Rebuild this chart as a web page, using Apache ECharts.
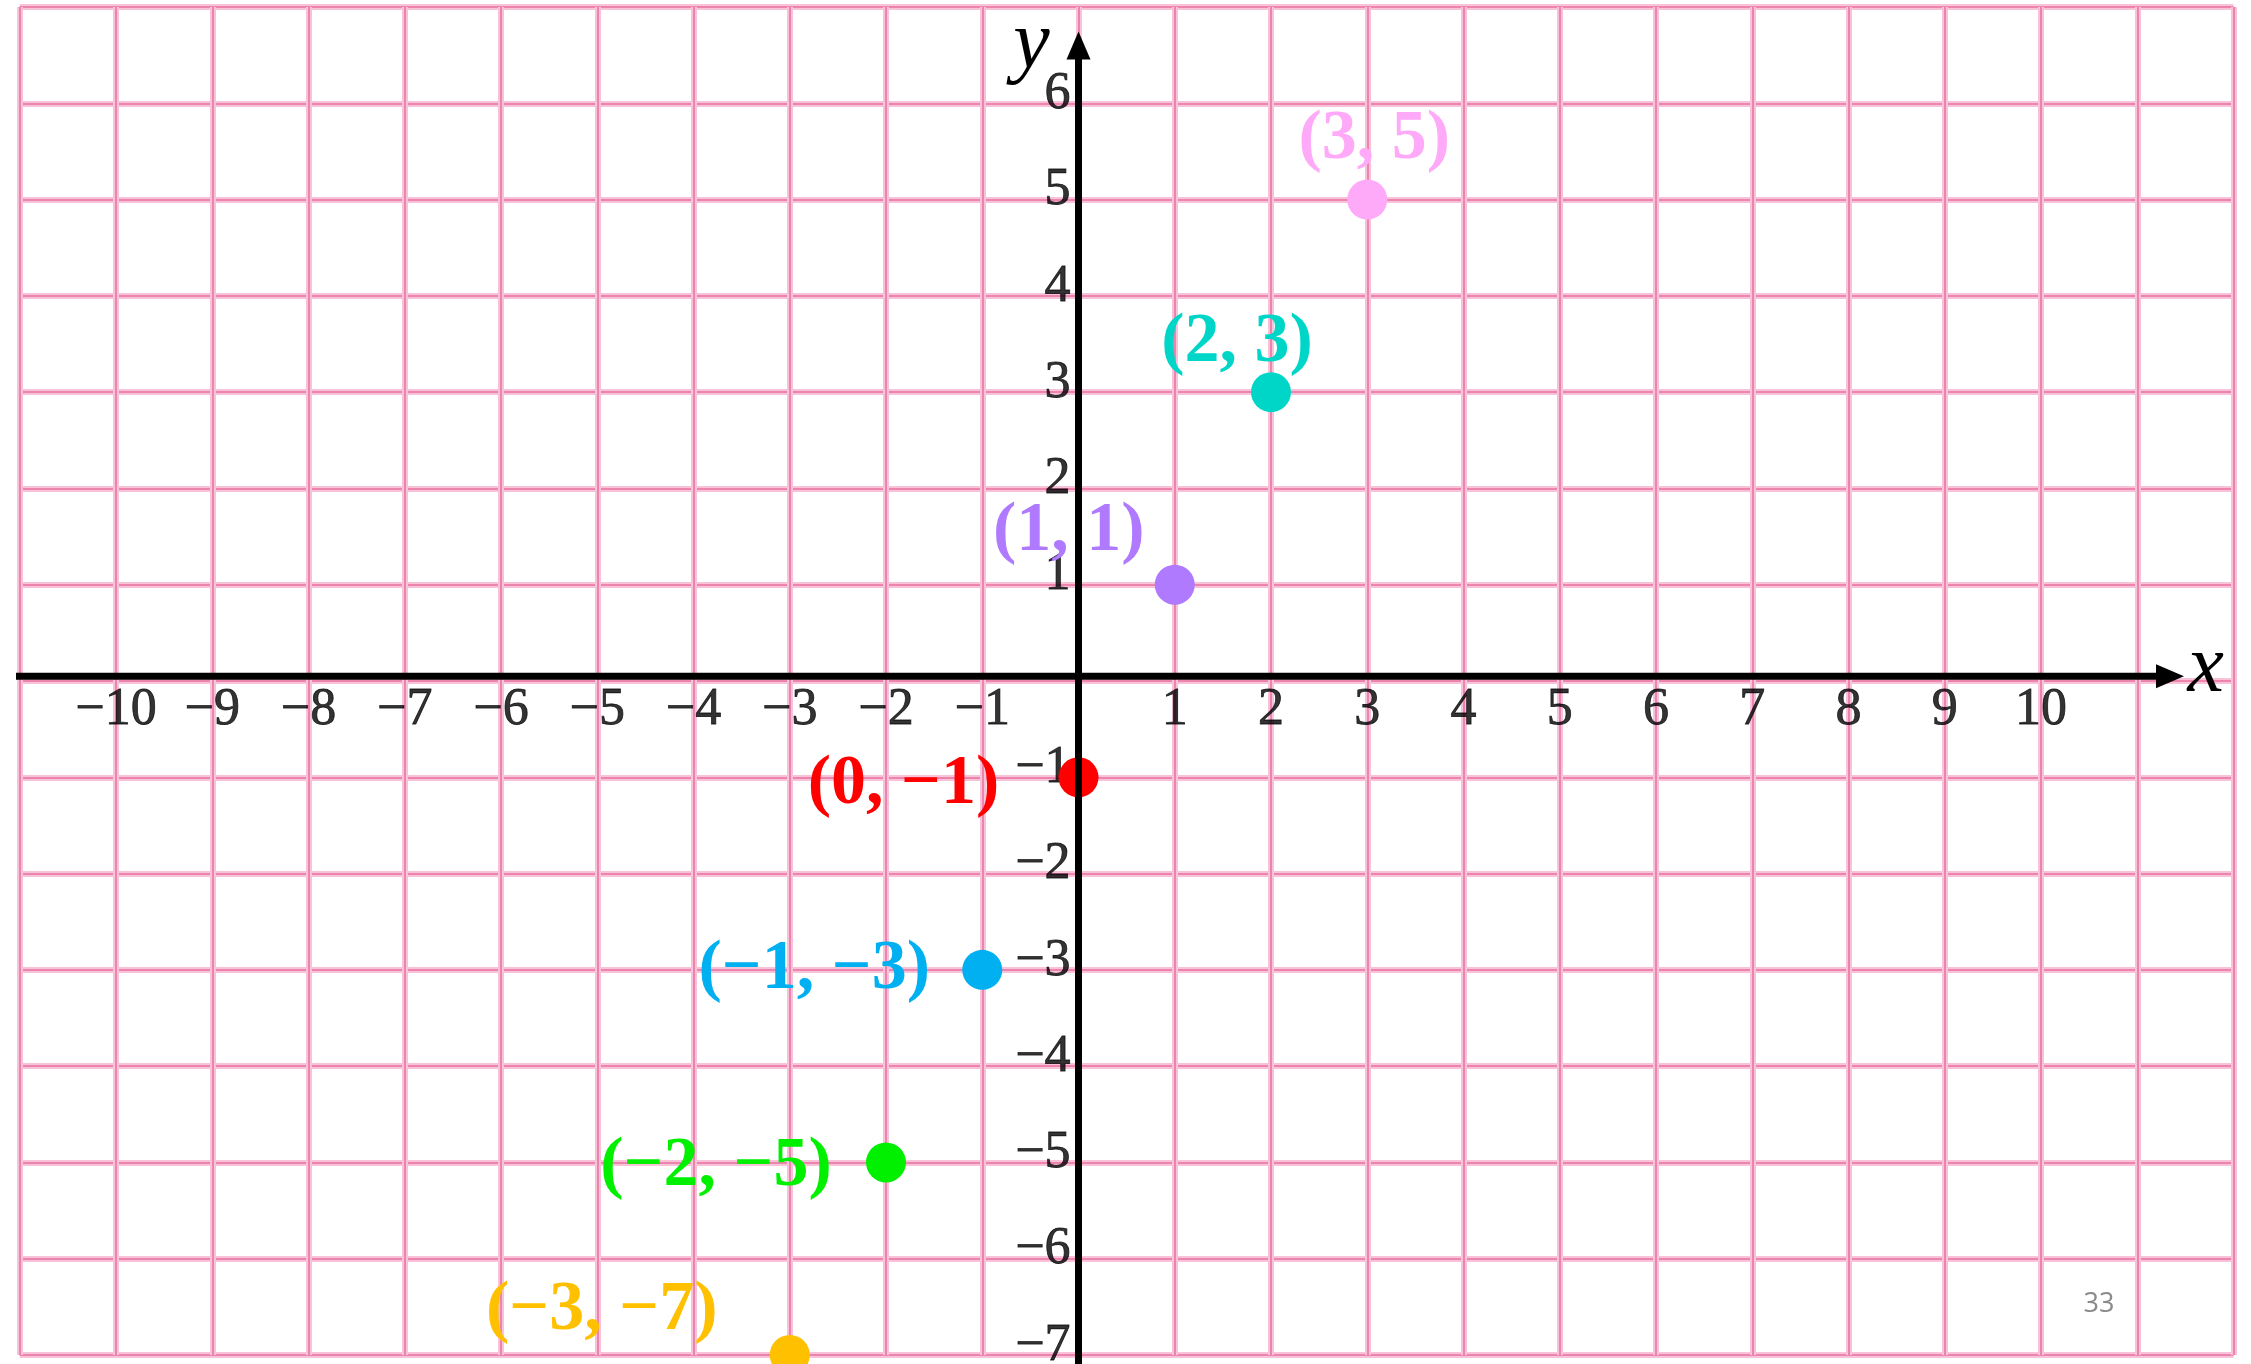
<!DOCTYPE html>
<html>
<head>
<meta charset="utf-8">
<script src="https://cdn.jsdelivr.net/npm/echarts@6/dist/echarts.min.js"></script>
<style>
html,body{margin:0;padding:0;background:#ffffff;}
#chart{width:2251px;height:1364px;}
</style>
</head>
<body>
<div id="chart"></div>
<script>
// ---------------- data ----------------
const pointX = [3, 2, 1, 0, -1, -2, -3];
const pointY = [5, 3, 1, -1, -3, -5, -7];
const pointLabels = ['(3, 5)', '(2, 3)', '(1, 1)', '(0, −1)', '(−1, −3)', '(−2, −5)', '(−3, −7)'];
const xTickValues = [-10, -9, -8, -7, -6, -5, -4, -3, -2, -1, 1, 2, 3, 4, 5, 6, 7, 8, 9, 10];
const yTickValues = [-7, -6, -5, -4, -3, -2, -1, 1, 2, 3, 4, 5, 6];
const xRange = [-11, 12];
const yRange = [-7, 7];
const xAxisLineExtent = [-11.15, 11.34];
const yAxisLineExtent = [-7.15, 6.6];
const xAxisLineLevel = 0.05;
const axisNames = ['x', 'y'];
const pageNumber = '33';

// ---------------- styles / layout ----------------
const pointColors = ['#ffaaf8', '#00d6c8', '#b07aff', '#ff0000', '#00b0f0', '#00f000', '#ffc000'];
const labelOffsets = [[7, -60], [-34, -49], [-106, -53], [-175, 8], [-168, 0], [-170, 4], [-188, -44]];
const axisNameAnchors = [[11.71, 0.12], [-0.49, 6.6]];

const fmt = v => (v < 0 ? '\u2212' + Math.abs(v) : String(v));
const gridRect = {left: 19.75, right: 17.5, top: 7, bottom: 9, containLabel: false, outerBoundsMode: 'none'};
const tickFont = {color: '#000000', fontFamily: 'Liberation Serif', fontSize: 52, textBorderColor: '#000000', textBorderWidth: 0.8};

const chart = echarts.init(document.getElementById('chart'), null, {renderer: 'canvas'});

function valueAxis(gridIndex, range, lineStyle) {
  return {
    type: 'value', gridIndex: gridIndex, min: range[0], max: range[1], interval: 1,
    axisLine: {show: false},
    axisTick: {show: false},
    axisLabel: {show: false},
    splitLine: {show: true, lineStyle: lineStyle}
  };
}

const haloStyle = {color: '#f8c3d9', width: 6};
const coreStyle = {color: '#ec84ad', width: 2};

const scatterData = pointX.map((x, i) => ({
  value: [x, pointY[i]],
  itemStyle: {color: pointColors[i], opacity: 1},
  label: {
    show: true,
    position: 'inside',
    offset: labelOffsets[i],
    formatter: pointLabels[i],
    color: pointColors[i],
    fontFamily: 'Liberation Serif',
    fontWeight: 'bold',
    fontSize: 70
  }
}));

function axisLineSeries(start, end, rotate) {
  return {
    type: 'line', xAxisIndex: 1, yAxisIndex: 1, z: 10, clip: false, silent: true,
    animation: false,
    lineStyle: {color: '#000000', width: 7},
    itemStyle: {color: '#000000', borderWidth: 0},
    emphasis: {disabled: true},
    data: [
      {value: start, symbol: 'none'},
      {value: end, symbol: 'triangle', symbolSize: [24, 28], symbolRotate: rotate}
    ]
  };
}

function tickSeries(values, isX) {
  return {
    type: 'scatter', xAxisIndex: 1, yAxisIndex: 1, z: 1, silent: true,
    symbol: 'circle', symbolSize: 1,
    itemStyle: {color: 'rgba(0,0,0,0)'},
    emphasis: {disabled: true},
    label: Object.assign({
      show: true,
      position: 'inside',
      align: isX ? 'center' : 'right',
      verticalAlign: isX ? 'top' : 'middle',
      offset: isX ? [0, 8] : [-8, -9],
      formatter: p => fmt(isX ? p.value[0] : p.value[1])
    }, tickFont),
    data: values.map(v => (isX ? [v, xAxisLineLevel] : [0, v]))
  };
}

const option = {
  animation: false,
  backgroundColor: '#ffffff',
  grid: [Object.assign({}, gridRect), Object.assign({}, gridRect)],
  xAxis: [valueAxis(0, xRange, haloStyle), valueAxis(1, xRange, coreStyle)],
  yAxis: [valueAxis(0, yRange, haloStyle), valueAxis(1, yRange, coreStyle)],
  series: [
    tickSeries(xTickValues, true),
    tickSeries(yTickValues, false),
    {
      type: 'scatter', xAxisIndex: 1, yAxisIndex: 1, z: 2,
      symbol: 'circle', symbolSize: 40,
      emphasis: {disabled: true},
      data: scatterData
    },
    axisLineSeries([xAxisLineExtent[0], xAxisLineLevel], [xAxisLineExtent[1], xAxisLineLevel], -90),
    axisLineSeries([0, yAxisLineExtent[0]], [0, yAxisLineExtent[1]], 0)
  ]
};
chart.setOption(option);

const nameGraphics = axisNames.map((n, i) => {
  const p = chart.convertToPixel({gridIndex: 1}, axisNameAnchors[i]);
  return {
    type: 'text', x: p[0], y: p[1], z: 20,
    style: {text: n, fill: '#000', font: 'italic 82px "Liberation Serif"', align: 'center', verticalAlign: 'middle'}
  };
});
nameGraphics.push({
  type: 'text', x: 2099, y: 1304, z: 20,
  style: {text: pageNumber, fill: '#8a8a8a', font: '27px "Open Sans"', align: 'center', verticalAlign: 'middle'}
});
chart.setOption({graphic: nameGraphics});
</script>
</body>
</html>
